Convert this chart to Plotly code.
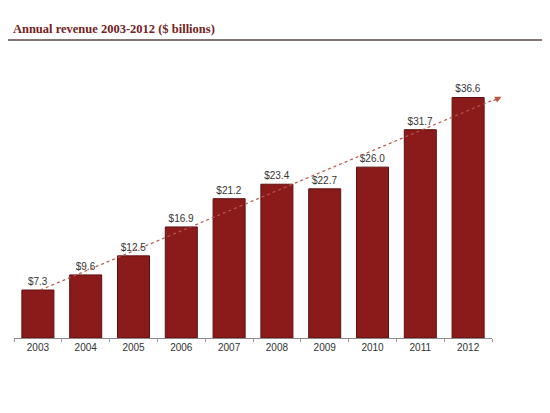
import plotly.graph_objects as go

# revenue by year, $ billions
years = ["2003", "2004", "2005", "2006", "2007", "2008", "2009", "2010", "2011", "2012"]
revenue = [7.3, 9.6, 12.5, 16.9, 21.2, 23.4, 22.7, 26.0, 31.7, 36.6]
cagr_label = "CAGR*:<br>19.7%"
title_text = "Annual revenue 2003-2012 ($ billions)"

bar_red = "#8b1b1b"

fig = go.Figure()
fig.add_trace(go.Bar(
    x=years, y=revenue,
    marker=dict(color=bar_red, line=dict(color="#5e1010", width=1)),
    texttemplate="$%{y:.1f}", textposition="outside", cliponaxis=False,
    textfont=dict(family="Liberation Sans, Arial", size=10, color="#333333"),
))

# dotted CAGR trend line, first bar top to just past the last bar
n = len(years)
fig.add_shape(type="line", xref="x", yref="y",
              x0=0.05, y0=revenue[0], x1=n - 0.35, y1=revenue[-1],
              line=dict(color="#b8574a", width=1.2, dash="dot"))
fig.add_annotation(xref="x", yref="y", axref="x", ayref="y",
                   x=n - 0.3, y=revenue[-1] + 0.1, ax=n - 0.5, ay=revenue[-1] - 0.6,
                   text="", showarrow=True, arrowhead=2, arrowsize=1, arrowwidth=1.3,
                   arrowcolor="#b8574a")
fig.add_annotation(xref="x", yref="y", x=n - 0.4, y=40.4,
                   text="<b>" + cagr_label + "</b>", showarrow=False,
                   xanchor="left", yanchor="middle", align="left",
                   font=dict(family="Liberation Sans, Arial", size=10, color="#222222"))

# rule under the heading
fig.add_shape(type="line", xref="paper", yref="paper",
              x0=-0.013, x1=1.111, y0=1.08, y1=1.08,
              line=dict(color="#5a4a45", width=1.5))

fig.update_layout(
    width=550, height=413,
    margin=dict(l=6, r=66, t=54, b=83),
    paper_bgcolor="white", plot_bgcolor="white",
    showlegend=False,
    bargap=0.33,
    title=dict(text="<b>" + title_text + "</b>", xref="container", yref="container",
               x=0.009, y=0.949, xanchor="left", yanchor="middle",
               font=dict(family="Liberation Serif, Georgia, serif", size=12.5, color="#742222")),
)
fig.update_xaxes(type="category", showline=True, linecolor="#8a8a8a", linewidth=1,
                 ticks="outside", tickson="boundaries", ticklen=3, tickcolor="#9a9a9a",
                 tickfont=dict(family="Liberation Sans, Arial", size=10, color="#333333"),
                 range=[-0.5, n - 0.5], showgrid=False)
fig.update_yaxes(range=[0, 42], visible=False, showgrid=False, zeroline=False)

fig.write_html("out.html")
